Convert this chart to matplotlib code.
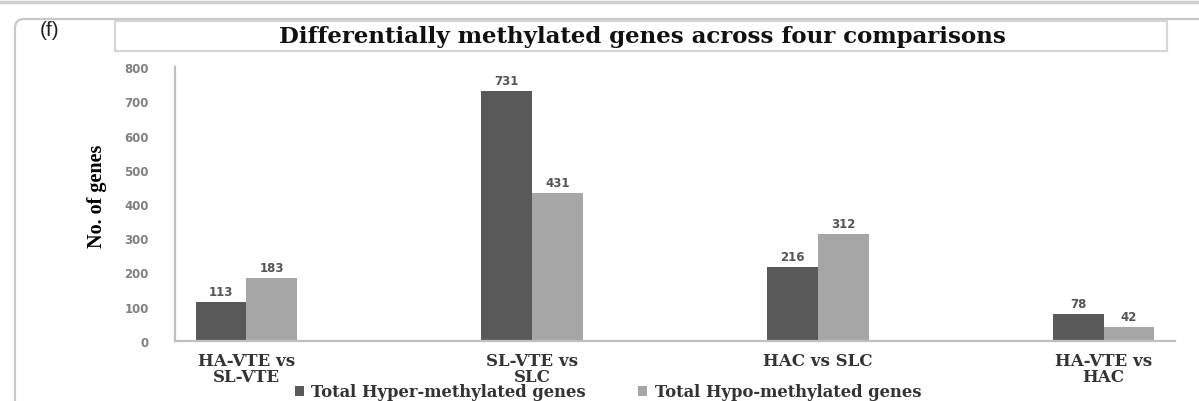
import numpy as np
import matplotlib
matplotlib.use("Agg")
import matplotlib.pyplot as plt
from matplotlib.patches import Rectangle, FancyBboxPatch
from matplotlib.lines import Line2D
from matplotlib.transforms import IdentityTransform

# Data
comparisons = ["HA-VTE vs\nSL-VTE", "SL-VTE vs\nSLC", "HAC vs SLC", "HA-VTE vs\nHAC"]
hyper_counts = [113, 731, 216, 78]
hypo_counts = [183, 431, 312, 42]
series_names = ["Total Hyper-methylated genes", "Total Hypo-methylated genes"]
y_ticks = [0, 100, 200, 300, 400, 500, 600, 700, 800]

dark_grey = "#595959"
light_grey = "#a6a6a6"
axis_grey = "#bfbfbf"

fig = plt.figure(figsize=(11.99, 4.02), dpi=100)
ax = fig.add_axes([175 / 1199, 1 - 342 / 402, 1000 / 1199, 274 / 402])

x = np.arange(len(comparisons))
width = 0.178
bars_hyper = ax.bar(x - width / 2, hyper_counts, width, color=dark_grey, label=series_names[0])
bars_hypo = ax.bar(x + width / 2, hypo_counts, width, color=light_grey, label=series_names[1])

# value labels above each bar
for bars in (bars_hyper, bars_hypo):
    for b in bars:
        ax.annotate(f"{int(b.get_height())}",
                    xy=(b.get_x() + b.get_width() / 2, b.get_height()),
                    xytext=(0, 7.5), textcoords="offset points",
                    ha="center", va="center", fontsize=8.5, fontweight="bold",
                    color="#555555", family="DejaVu Sans")

ax.set_xlim(-0.25, 3.25)
ax.set_ylim(0, 800)
ax.set_yticks(y_ticks)
ax.set_xticks(x)
ax.set_xticklabels(comparisons, family="DejaVu Serif", fontweight="bold",
                   fontsize=12, color="#333333", linespacing=0.9)
for lab in ax.get_yticklabels():
    lab.set_family("DejaVu Sans")
    lab.set_fontweight("bold")
    lab.set_fontsize(8.5)
    lab.set_color("#808080")
ax.tick_params(axis="y", length=0, pad=19)
ax.tick_params(axis="x", length=0, pad=8)

for side in ("top", "right"):
    ax.spines[side].set_visible(False)
for side in ("left", "bottom"):
    ax.spines[side].set_color(axis_grey)
    ax.spines[side].set_linewidth(1.6)

ax.set_ylabel("No. of genes", family="Liberation Serif", fontweight="bold", fontsize=14.5)
ax.yaxis.set_label_coords(-0.068, 0.53)

leg = fig.legend(handles=[bars_hyper, bars_hypo], labels=series_names,
                 loc="center", bbox_to_anchor=(608 / 1199, 1 - 393 / 402),
                 ncol=2, frameon=False, handlelength=0.55, handleheight=0.55,
                 handletextpad=0.45, columnspacing=3.2,
                 prop={"family": "DejaVu Serif", "weight": "bold", "size": 11.8})
for t in leg.get_texts():
    t.set_color("#333333")

# panel decorations: top rule, rounded outer frame, title box
fig.add_artist(Line2D([0, 1], [1 - 3 / 402, 1 - 3 / 402], transform=fig.transFigure,
                      color="#d0d0d0", lw=2.5))
fig.add_artist(FancyBboxPatch((15, -30), 1300, 402 - 20 + 30,
                              boxstyle="round,pad=0,rounding_size=9",
                              transform=IdentityTransform(),
                              facecolor="none", edgecolor="#c8c8c8", lw=1.6))
fig.add_artist(Rectangle((115 / 1199, 1 - 52 / 402), 1052 / 1199, 30 / 402,
                         transform=fig.transFigure, facecolor="white",
                         edgecolor="#d6d6d6", lw=1.6))
fig.text(642 / 1199, 1 - 37 / 402, "Differentially methylated genes across four comparisons",
         ha="center", va="center", family="DejaVu Serif", fontweight="bold",
         fontsize=16.5, color="#111111")
fig.text(40 / 1199, 1 - 30 / 402, "(f)", ha="left", va="center",
         family="Liberation Sans", fontsize=15, color="#222222")

fig.savefig("out.png", dpi=100)
